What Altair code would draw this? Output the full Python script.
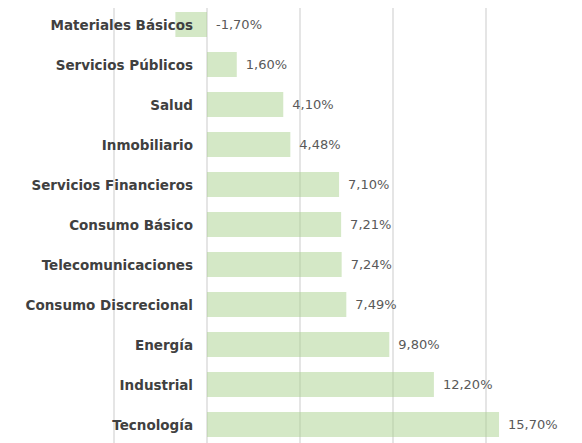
import altair as alt
import pandas as pd

categories = ["Materiales Básicos", "Servicios Públicos", "Salud", "Inmobiliario",
              "Servicios Financieros", "Consumo Básico", "Telecomunicaciones",
              "Consumo Discrecional", "Energía", "Industrial", "Tecnología"]
values = [-1.70, 1.60, 4.10, 4.48, 7.10, 7.21, 7.24, 7.49, 9.80, 12.20, 15.70]
labels = ["-1,70%", "1,60%", "4,10%", "4,48%", "7,10%", "7,21%", "7,24%",
          "7,49%", "9,80%", "12,20%", "15,70%"]
grid_values = [-5, 0, 5, 10, 15, 20]

df = pd.DataFrame({"cat": categories, "val": values, "lab": labels})
df["zero"] = 0.0
df["pos"] = df["val"].clip(lower=0)
grid_df = pd.DataFrame({"g": grid_values})

FONT = "DejaVu Sans"

x_scale = alt.Scale(domain=[-5, 20], nice=False, zero=False)
y_scale = alt.Scale(domain=categories, range=[-3.5, 436.5],
                    paddingInner=0.375, paddingOuter=0.1875)

grid = alt.Chart(grid_df).mark_rule(color="#d4d4d4", strokeWidth=1.2).encode(
    x=alt.X("g:Q", scale=x_scale, axis=None),
    y=alt.value(-1),
    y2=alt.value(440),
)

base = alt.Chart(df)

bars = base.mark_bar(color="#a9d18e", opacity=0.5).encode(
    x=alt.X("val:Q", scale=x_scale, axis=None),
    x2="zero:Q",
    y=alt.Y("cat:N", scale=y_scale, axis=None, sort=categories),
)

cat_text = base.mark_text(align="right", baseline="middle", dx=-14, dy=1,
                          font=FONT, fontSize=13.5, fontWeight="bold",
                          color="#404040").encode(
    x="zero:Q",
    y=alt.Y("cat:N", scale=y_scale, sort=categories),
    text="cat:N",
)

val_text = base.mark_text(align="left", baseline="middle", dx=9, dy=0,
                          font=FONT, fontSize=13, color="#595959").encode(
    x="pos:Q",
    y=alt.Y("cat:N", scale=y_scale, sort=categories),
    text="lab:N",
)

chart = alt.layer(grid, bars, cat_text, val_text).properties(
    width=465, height=435,
    autosize=alt.AutoSizeParams(type="none"),
    padding={"left": 106, "top": 0, "right": -5, "bottom": 0},
).configure_view(stroke=None)

chart.save("out.html", embed_options={"renderer": "svg", "actions": False})
